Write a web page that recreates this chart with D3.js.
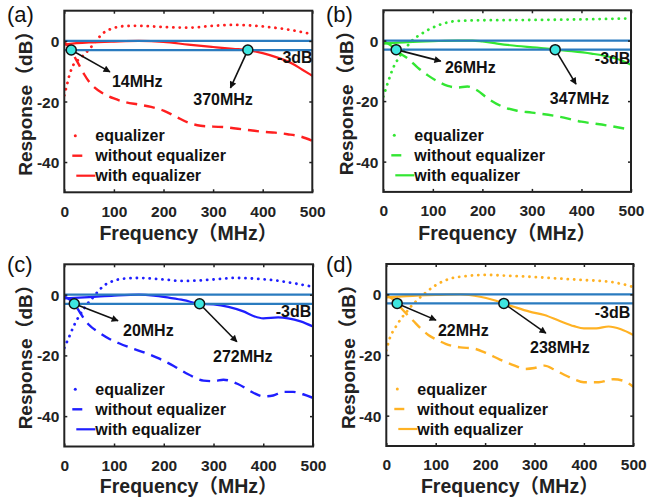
<!DOCTYPE html>
<html><head><meta charset="utf-8">
<script src="https://cdn.jsdelivr.net/npm/d3@7"></script>
<style>body{margin:0;background:#fff}svg{display:block}</style>
</head><body>
<svg id="chart" width="658" height="501"></svg>
<script>
// ---------------- data ----------------
const ticksX = [0, 100, 200, 300, 400, 500];
const ticksY = [-40, -20, 0];
const refLevels = [0, -3];
const seriesNames = ["equalizer", "without equalizer", "with equalizer"];
const panelLabels = ["(a)", "(b)", "(c)", "(d)"];
const panelColors = ["#ff1f1f", "#33e633", "#1f1fff", "#ffb224"];
const cutoffLow = [14, 26, 20, 22];
const cutoffHigh = [370, 347, 272, 238];
const cutoffLabels = [["14MHz", "370MHz"], ["26MHz", "347MHz"], ["20MHz", "272MHz"], ["22MHz", "238MHz"]];

const aEqualizer = [[0,-18],[5,-14.8],[10,-11.5],[18,-8],[30,-6],[40,-4.5],[50,-2.8],[60,-0.8],[70,1.2],[80,2.8],[90,3.7],[100,4.3],[120,4.9],[150,5],[200,4.6],[250,4.4],[300,5],[340,5.3],[400,4.8],[450,3.8],[500,2.2]];
const aWithout = [[0,-0.5],[5,-1.2],[10,-2.2],[14,-3],[20,-5],[30,-8],[40,-11],[50,-13.5],[60,-15.2],[75,-17],[100,-19],[125,-20.3],[150,-21],[175,-21.8],[200,-23],[225,-25],[250,-27],[275,-28],[300,-28.3],[325,-28.5],[350,-29],[375,-29.5],[400,-30],[425,-30.3],[450,-30.8],[475,-31.5],[500,-33]];
const aWith = [[0,-1.2],[20,-0.8],[50,-0.5],[100,-0.2],[150,0],[200,-0.3],[250,-1.2],[300,-2],[340,-2.6],[370,-3],[400,-4],[430,-5.5],[460,-7.5],[480,-9.5],[500,-11.5]];

const bEqualizer = [[0,-18.5],[5,-16],[10,-13.5],[20,-9],[30,-6],[40,-3.5],[50,-1.5],[60,0.3],[75,2],[90,3.5],[110,5],[130,6],[150,6.5],[200,6.7],[300,6.8],[400,7],[500,7.3]];
const bWithout = [[0,-0.5],[10,-1],[20,-2.2],[26,-3],[35,-4.3],[50,-6],[70,-9],[90,-11.5],[110,-13.5],[130,-15],[150,-15.5],[170,-15.2],[190,-16.5],[210,-19],[240,-21.8],[270,-23.2],[300,-23.8],[350,-25],[400,-26.8],[450,-28],[500,-29.5]];
const bWith = [[0,-1],[50,-0.5],[100,-0.2],[150,0],[180,0],[200,-0.3],[230,-1],[270,-1.8],[310,-2.3],[347,-3],[380,-3.5],[420,-4.3],[460,-5.5],[480,-6.5],[500,-8]];

const cEqualizer = [[0,-17.5],[10,-13.8],[20,-10],[30,-7],[40,-4.5],[50,-2.3],[60,-0.5],[70,1.5],[80,3],[95,4.3],[120,5.3],[150,5.5],[200,5],[240,4.5],[300,5],[340,5.5],[380,5.3],[420,4.8],[460,3.8],[500,2.6]];
const cWithout = [[0,-0.5],[10,-1.5],[20,-3],[30,-5.5],[40,-8],[50,-10],[70,-12.5],[90,-14.5],[110,-16],[130,-17.3],[160,-19],[190,-21],[220,-23.5],[250,-26.3],[280,-28.3],[300,-28.5],[320,-28],[350,-29.5],[380,-32.3],[400,-33.5],[420,-33.2],[440,-32],[460,-32],[480,-32.8],[500,-34]];
const cWith = [[0,-1.2],[50,-0.8],[100,-0.3],[150,0],[180,-0.3],[210,-1],[240,-1.8],[272,-3],[300,-3.2],[330,-4],[360,-5.5],[380,-7],[400,-7.8],[430,-7.5],[450,-7.8],[475,-8.8],[500,-10.5]];

const dEqualizer = [[0,-18.5],[7,-14.5],[20,-10.5],[30,-8],[40,-6],[50,-4],[60,-2.3],[70,-0.8],[80,0.6],[100,3],[130,5.2],[160,6],[200,6.4],[250,6.1],[300,5.7],[350,5.2],[400,4.7],[450,4.2],[480,3.3],[500,2.4]];
const dWithout = [[0,-0.5],[10,-1.2],[22,-3],[30,-4.5],[40,-6.3],[55,-8.8],[70,-11.3],[85,-13.4],[100,-14.8],[120,-16.3],[150,-17.5],[175,-17.8],[200,-19.2],[230,-21.5],[260,-23.5],[280,-24.6],[300,-24.3],[320,-23.5],[340,-24.8],[360,-26.5],[380,-28],[400,-29],[430,-29],[460,-28],[480,-28.5],[500,-30.5]];
const dWith = [[0,-1],[40,-0.6],[100,-0.2],[150,0],[190,-0.8],[215,-1.8],[238,-3],[260,-4.2],[290,-5.7],[320,-6.8],[350,-8.7],[380,-10.5],[400,-11.2],[425,-11.2],[450,-10.6],[475,-11.5],[500,-13.4]];

const panelSeries = [
  [aEqualizer, aWithout, aWith],
  [bEqualizer, bWithout, bWith],
  [cEqualizer, cWithout, cWith],
  [dEqualizer, dWithout, dWith]
];

// ---------------- layout (presentation) ----------------
const layout = [
  {left: 64.3, top: 10.7, width: 248, height: 181.6, xlabBase: 240, ylabX: 32, lab: [7, 22]},
  {left: 383.3, top: 10.3, width: 247.7, height: 181.6, xlabBase: 240, ylabX: 353, lab: [326, 22]},
  {left: 64.3, top: 264.3, width: 248.7, height: 182.2, xlabBase: 493, ylabX: 32, lab: [7, 272]},
  {left: 386.3, top: 264, width: 247, height: 182, xlabBase: 493, ylabX: 355, lab: [326, 272]}
];
// annotation anchors in data coordinates [MHz, dB]
const annot = [
  {head1: [92, -10.2], text1: [96, -15.3], head2: [335, -15.5], text2: [260, -21.3], db3: [429, -7.4]},
  {head1: [116, -6.8], text1: [124.5, -10.6], head2: [389, -14.4], text2: [336, -20.8], db3: [427, -7.6]},
  {head1: [108, -8.6], text1: [118, -13.7], head2: [347, -15.5], text2: [299, -22.2], db3: [425, -7.4]},
  {head1: [100.6, -8.5], text1: [104.6, -13.6], head2: [323, -12.8], text2: [291, -19.5], db3: [422, -7.7]}
];

const FONT = "'Liberation Sans', Arial, 'Noto Sans CJK SC', sans-serif";
const svg = d3.select("#chart");
const defs = svg.append("defs");
defs.append("marker").attr("id", "arrow").attr("viewBox", "0 0 10 10")
  .attr("refX", 9).attr("refY", 5).attr("markerWidth", 9).attr("markerHeight", 7)
  .attr("markerUnits", "userSpaceOnUse").attr("orient", "auto")
  .append("path").attr("d", "M0,0 L10,5 L0,10 z").attr("fill", "#111");

const styles = [
  {dash: "0.1 6.3", width: 2.8, cap: "round"},
  {dash: "11 7", width: 2.4, cap: "butt"},
  {dash: null, width: 2.2, cap: "butt"}
];

panelSeries.forEach((series, i) => {
  const L = layout[i];
  const color = panelColors[i];
  const x = d3.scaleLinear().domain([0, 500]).range([L.left, L.left + L.width]);
  const y = d3.scaleLinear().domain([-50, 10]).range([L.top + L.height, L.top]);
  const g = svg.append("g");

  defs.append("clipPath").attr("id", "clip" + i).append("rect")
    .attr("x", L.left).attr("y", L.top).attr("width", L.width).attr("height", L.height);

  const line = d3.line().x(d => x(d[0])).y(d => y(d[1])).curve(d3.curveMonotoneX);
  const cg = g.append("g").attr("clip-path", `url(#clip${i})`);
  series.forEach((s, k) => {
    const st = styles[k];
    cg.append("path").datum(s).attr("d", line).attr("fill", "none")
      .attr("stroke", color).attr("stroke-width", st.width)
      .attr("stroke-linecap", st.cap).attr("stroke-linejoin", "round")
      .attr("stroke-dasharray", st.dash);
  });
  // reference lines
  refLevels.forEach(r => {
    cg.append("line").attr("x1", x(0)).attr("x2", x(500)).attr("y1", y(r)).attr("y2", y(r))
      .attr("stroke", "#2a7bbf").attr("stroke-width", 2.2);
  });

  // arrows
  const A = annot[i];
  const drawArrow = (f, head) => {
    g.append("line").attr("x1", x(f)).attr("y1", y(-3)).attr("x2", x(head[0])).attr("y2", y(head[1]))
      .attr("stroke", "#111").attr("stroke-width", 1.6).attr("marker-end", "url(#arrow)");
  };
  drawArrow(cutoffLow[i], A.head1);
  drawArrow(cutoffHigh[i], A.head2);
  [cutoffLow[i], cutoffHigh[i]].forEach(f => {
    g.append("circle").attr("cx", x(f)).attr("cy", y(-3)).attr("r", 5)
      .attr("fill", "#3ee6e0").attr("stroke", "#111").attr("stroke-width", 1.5);
  });
  const txt = (pos, s) => g.append("text").attr("x", x(pos[0])).attr("y", y(pos[1]))
    .attr("font-family", FONT).attr("font-weight", "bold").attr("font-size", 16).attr("fill", "#111").text(s);
  txt(A.text1, cutoffLabels[i][0]);
  txt(A.text2, cutoffLabels[i][1]);
  txt(A.db3, "-3dB");

  // legend
  const lg = g.append("g");
  const rows = [L.top + 125, L.top + 145, L.top + 165];
  seriesNames.forEach((nm, k) => {
    const yy = rows[k];
    if (k === 0) {
      lg.append("circle").attr("cx", L.left + 11).attr("cy", yy).attr("r", 1.5).attr("fill", color);
    } else if (k === 1) {
      lg.append("line").attr("x1", L.left + 8).attr("x2", L.left + 18).attr("y1", yy).attr("y2", yy)
        .attr("stroke", color).attr("stroke-width", 2.4);
    } else {
      lg.append("line").attr("x1", L.left + 12).attr("x2", L.left + 31).attr("y1", yy).attr("y2", yy)
        .attr("stroke", color).attr("stroke-width", 2.2);
    }
    lg.append("text").attr("x", L.left + 31).attr("y", yy + 5.5)
      .attr("font-family", FONT).attr("font-weight", "bold").attr("font-size", 16).attr("fill", "#111").text(nm);
  });

  // axes (ticks inside, box)
  const ax = g.append("g");
  const bottom = ax.append("g").attr("transform", `translate(0,${L.top + L.height})`)
    .call(d3.axisBottom(x).tickValues(ticksX).tickSize(-3).tickFormat(d => String(d)));
  bottom.selectAll("text").attr("y", 24.3).attr("dy", null);
  ax.append("g").attr("transform", `translate(0,${L.top})`)
    .call(d3.axisTop(x).tickValues(ticksX).tickSize(-3).tickFormat(""));
  const left = ax.append("g").attr("transform", `translate(${L.left},0)`)
    .call(d3.axisLeft(y).tickValues(ticksY).tickSize(-3).tickFormat(d => String(d)));
  left.selectAll("text").attr("x", -5).attr("dy", "0.36em");
  ax.append("g").attr("transform", `translate(${L.left + L.width},0)`)
    .call(d3.axisRight(y).tickValues(ticksY).tickSize(-3).tickFormat(""));
  ax.selectAll(".domain").remove();
  ax.selectAll(".tick line").attr("stroke", "#222").attr("stroke-width", 1.5);
  ax.selectAll("text").attr("font-family", FONT).attr("font-weight", "bold")
    .attr("font-size", 15.5).attr("fill", "#222");
  ax.append("rect").attr("x", L.left).attr("y", L.top).attr("width", L.width).attr("height", L.height)
    .attr("fill", "none").attr("stroke", "#222").attr("stroke-width", 2);

  // axis titles
  g.append("text").attr("x", L.left + L.width / 2).attr("y", L.xlabBase).attr("text-anchor", "middle")
    .attr("font-family", FONT).attr("font-weight", "bold").attr("font-size", 19.5).attr("fill", "#222")
    .text("Frequency（MHz）");
  g.append("text").attr("transform", `translate(${L.ylabX},${L.top + 88}) rotate(-90)`)
    .attr("text-anchor", "middle").attr("font-family", FONT).attr("font-weight", "bold")
    .attr("font-size", 19).attr("fill", "#222").text("Response（dB）");

  // panel label
  g.append("text").attr("x", L.lab[0]).attr("y", L.lab[1]).attr("font-family", FONT)
    .attr("font-size", 22).attr("fill", "#111").text(panelLabels[i]);
});
</script>
</body></html>
